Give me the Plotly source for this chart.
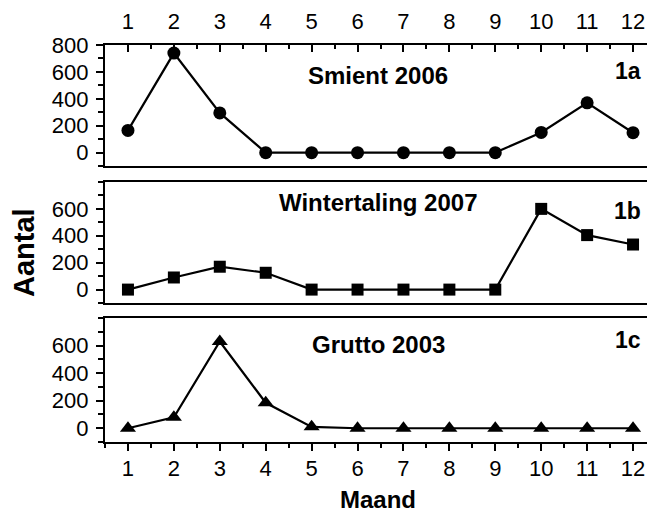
import plotly.graph_objects as go

months = list(range(1, 13))
smient_2006 = [165, 740, 295, 0, 0, 0, 0, 0, 0, 150, 370, 148]
wintertaling_2007 = [0, 90, 170, 125, 0, 0, 0, 0, 0, 600, 405, 335]
grutto_2003 = [0, 80, 630, 185, 10, 0, 0, 0, 0, 0, 0, 0]
month_ticks = [str(m) for m in months]
panel_titles = ["Smient 2006", "Wintertaling 2007", "Grutto 2003"]
panel_labels = ["1a", "1b", "1c"]

FONT = "Liberation Sans, Arial, sans-serif"
OFF = 8  # page body margin
W, H = 650, 505
L, R, T, B = 97, 2, 37, 71
PW, PH = W - L - R, H - T - B
fig = go.Figure()

series = [smient_2006, wintertaling_2007, grutto_2003]
symbols = ["circle", "square", "triangle-up"]
sizes = [13, 12, 14]
for i, (vals, sym, sz) in enumerate(zip(series, symbols, sizes)):
    ax = "" if i == 0 else str(i + 1)
    fig.add_trace(go.Scatter(
        x=months, y=vals, mode="lines+markers",
        line=dict(color="black", width=2.2),
        marker=dict(symbol=sym, size=sz, color="black"),
        xaxis="x" + ax, yaxis="y" + ax, showlegend=False, cliponaxis=False))

domains = [(0.695, 1.0), (0.350, 0.655), (0.0, 0.312)]
half = [m + 0.5 for m in [0] + months[:-1]]
common_x = dict(range=[0.5, 12.5], tickvals=months, ticktext=month_ticks,
                showgrid=False, zeroline=False, showline=True, linecolor="black",
                linewidth=2.4, automargin=False,
                tickfont=dict(family=FONT, size=22, color="black"))
common_y = dict(range=[-100, 800], showgrid=False, zeroline=False, showline=True,
                linecolor="black", linewidth=2.4, ticks="outside", ticklen=7,
                tickwidth=2, tickcolor="black", mirror=True, automargin=False,
                ticklabelstandoff=3,
                tickfont=dict(family=FONT, size=22, color="black"),
                minor=dict(dtick=100, ticks="outside", ticklen=5, tickwidth=1.6,
                           tickcolor="black"))
right_y = dict(range=[-100, 800], showgrid=False, zeroline=False, showline=False,
               ticks="inside", ticklen=7, tickwidth=2, tickcolor="black",
               showticklabels=False, side="right", automargin=False,
               minor=dict(dtick=100, ticks="inside", ticklen=5, tickwidth=1.6,
                          tickcolor="black"))

layout = dict(width=W, height=H, margin=dict(l=L, r=R, t=T, b=B),
              plot_bgcolor="white", paper_bgcolor="white")

layout["xaxis"] = dict(common_x, side="top", anchor="y", ticks="inside",
                       ticklen=7, tickwidth=2, tickcolor="black", mirror=True,
                       ticklabelstandoff=5,
                       minor=dict(tickvals=half, ticks="inside", ticklen=4,
                                  tickwidth=1.6, tickcolor="black"))
layout["yaxis"] = dict(common_y, domain=domains[0], anchor="x",
                       tickvals=[0, 200, 400, 600, 800])
layout["xaxis2"] = dict(common_x, anchor="y2", showticklabels=False, ticks="",
                        mirror=True)
layout["yaxis2"] = dict(common_y, domain=domains[1], anchor="x2",
                        tickvals=[0, 200, 400, 600])
layout["xaxis3"] = dict(common_x, anchor="y3", side="bottom", ticks="outside",
                        ticklen=7, tickwidth=2, tickcolor="black", mirror=True,
                        ticklabelstandoff=-2,
                        minor=dict(tickvals=half, ticks="outside", ticklen=4,
                                   tickwidth=1.6, tickcolor="black"))
layout["yaxis3"] = dict(common_y, domain=domains[2], anchor="x3",
                        tickvals=[0, 200, 400, 600])
layout["yaxis4"] = dict(right_y, overlaying="y", anchor="x", tickvals=[0, 200, 400, 600, 800])
layout["yaxis5"] = dict(right_y, overlaying="y2", anchor="x2", tickvals=[0, 200, 400, 600])
layout["yaxis6"] = dict(right_y, overlaying="y3", anchor="x3", tickvals=[0, 200, 400, 600])
fig.update_layout(**layout)

def px_x(p):
    return (p - OFF - L) / PW

def px_y(p):
    return (H - B - (p - OFF)) / PH

annotations = []
title_y = [570, 644, 607]
label_y = [610, 585, 640]
for i in range(3):
    ax = "" if i == 0 else str(i + 1)
    annotations.append(dict(x=6.45, y=title_y[i], xref="x" + ax, yref="y" + ax,
                            text="<b>" + panel_titles[i] + "</b>", showarrow=False,
                            font=dict(family=FONT, size=24, color="black")))
    annotations.append(dict(x=12.22, y=label_y[i], xref="x" + ax, yref="y" + ax,
                            text="<b>" + panel_labels[i] + "</b>", showarrow=False,
                            xanchor="right", yanchor="middle",
                            font=dict(family=FONT, size=23, color="black")))
annotations.append(dict(x=px_x(24), y=px_y(253), xref="paper", yref="paper",
                        text="<b>Aantal</b>", showarrow=False, textangle=-90,
                        xanchor="center", yanchor="middle", borderpad=0,
                        font=dict(family=FONT, size=29, color="black")))
annotations.append(dict(x=px_x(378), y=px_y(499), xref="paper", yref="paper",
                        text="<b>Maand</b>", showarrow=False,
                        xanchor="center", yanchor="middle", borderpad=0,
                        font=dict(family=FONT, size=24, color="black")))
fig.update_layout(annotations=annotations)
fig.write_html("out.html")
